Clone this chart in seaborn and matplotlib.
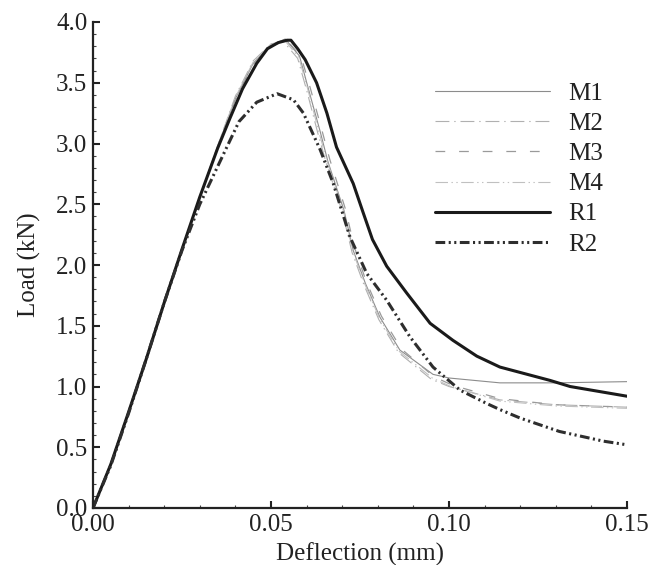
import numpy as np
import pandas as pd
import matplotlib
matplotlib.use("Agg")
import matplotlib.pyplot as plt
import seaborn as sns

# ---------------- data ----------------
r1_x = [0, 0.005, 0.010, 0.015, 0.020, 0.025, 0.030, 0.035, 0.0385, 0.042, 0.046, 0.049,
        0.052, 0.0545, 0.0556, 0.0575, 0.0596, 0.0628, 0.0657, 0.0684, 0.0731, 0.0759,
        0.0785, 0.0825, 0.0881, 0.0947, 0.1011, 0.1078, 0.1143, 0.1284, 0.134, 0.15]
r1_y = [0, 0.36, 0.79, 1.23, 1.69, 2.13, 2.56, 2.96, 3.21, 3.45, 3.66, 3.78,
        3.83, 3.85, 3.85, 3.78, 3.69, 3.50, 3.25, 2.97, 2.67, 2.43,
        2.21, 1.99, 1.77, 1.52, 1.38, 1.25, 1.16, 1.05, 1.00, 0.92]

r2_x = [0, 0.005, 0.010, 0.015, 0.020, 0.025, 0.030, 0.0371, 0.041, 0.046, 0.0517, 0.0563,
        0.0591, 0.0638, 0.0675, 0.0722, 0.0769, 0.0825, 0.089, 0.0955, 0.1031, 0.1106,
        0.1143, 0.12, 0.131, 0.1434, 0.15]
r2_y = [0, 0.35, 0.78, 1.23, 1.69, 2.12, 2.50, 2.94, 3.18, 3.34, 3.41, 3.36,
        3.25, 2.95, 2.67, 2.23, 1.93, 1.71, 1.41, 1.16, 0.97, 0.86,
        0.81, 0.74, 0.63, 0.55, 0.52]

m1_x = [0, 0.005, 0.010, 0.015, 0.020, 0.025, 0.030, 0.035, 0.040, 0.045, 0.050, 0.054,
        0.058, 0.0605, 0.0638, 0.066, 0.0705, 0.0731, 0.0765, 0.0806, 0.0862, 0.0955,
        0.100, 0.1143, 0.13, 0.15]
m1_y = [0, 0.36, 0.79, 1.23, 1.69, 2.13, 2.56, 2.97, 3.37, 3.66, 3.81, 3.86,
        3.72, 3.45, 3.10, 2.85, 2.45, 2.12, 1.85, 1.57, 1.30, 1.10,
        1.07, 1.03, 1.03, 1.04]

m2_x = [0, 0.005, 0.010, 0.015, 0.020, 0.025, 0.030, 0.035, 0.040, 0.045, 0.050, 0.0535,
        0.0575, 0.060, 0.0632, 0.0655, 0.070, 0.0728, 0.0762, 0.0803, 0.0858, 0.0950,
        0.100, 0.1143, 0.13, 0.15]
m2_y = [0, 0.36, 0.79, 1.23, 1.69, 2.13, 2.56, 2.98, 3.39, 3.68, 3.82, 3.84,
        3.70, 3.44, 3.08, 2.84, 2.44, 2.10, 1.83, 1.55, 1.28, 1.06,
        1.00, 0.89, 0.85, 0.83]

m3_x = [0, 0.005, 0.010, 0.015, 0.020, 0.025, 0.030, 0.035, 0.040, 0.045, 0.050, 0.0545,
        0.0585, 0.061, 0.0642, 0.0665, 0.0708, 0.0735, 0.0768, 0.0810, 0.0866, 0.0958,
        0.101, 0.1143, 0.13, 0.15]
m3_y = [0, 0.36, 0.79, 1.23, 1.69, 2.13, 2.56, 2.97, 3.36, 3.65, 3.80, 3.85,
        3.71, 3.46, 3.12, 2.87, 2.47, 2.14, 1.86, 1.58, 1.31, 1.08,
        1.01, 0.90, 0.85, 0.83]

m4_x = [0, 0.005, 0.010, 0.015, 0.020, 0.025, 0.030, 0.035, 0.040, 0.045, 0.050, 0.0538,
        0.0578, 0.0603, 0.0635, 0.0658, 0.0703, 0.0730, 0.0764, 0.0805, 0.0860, 0.0953,
        0.1005, 0.1143, 0.13, 0.15]
m4_y = [0, 0.36, 0.79, 1.23, 1.69, 2.13, 2.56, 2.98, 3.38, 3.67, 3.82, 3.85,
        3.71, 3.45, 3.09, 2.85, 2.45, 2.11, 1.84, 1.56, 1.29, 1.07,
        1.00, 0.88, 0.84, 0.82]

series_names = ["M1", "M2", "M3", "M4", "R1", "R2"]
x_ticks = [0.00, 0.05, 0.10, 0.15]
x_tick_labels = ["0.00", "0.05", "0.10", "0.15"]
y_ticks = [0.0, 0.5, 1.0, 1.5, 2.0, 2.5, 3.0, 3.5, 4.0]
y_tick_labels = ["0.0", "0.5", "1.0", "1.5", "2.0", "2.5", "3.0", "3.5", "4.0"]
x_label = "Deflection (mm)"
y_label = "Load (kN)"

# ---------------- styling ----------------
sns.set_style("ticks")
plt.rcParams["font.family"] = ["Liberation Serif", "DejaVu Serif"]
plt.rcParams["lines.scale_dashes"] = False

FS = 18

data = {
    "M1": (m1_x, m1_y),
    "M2": (m2_x, m2_y),
    "M3": (m3_x, m3_y),
    "M4": (m4_x, m4_y),
    "R1": (r1_x, r1_y),
    "R2": (r2_x, r2_y),
}
styles = {
    "M1": dict(color="#8c8c8c", linewidth=0.8, dashes=()),
    "M2": dict(color="#b0b0b0", linewidth=0.8, dashes=(10, 3.5, 1, 3.5)),
    "M3": dict(color="#9a9a9a", linewidth=0.9, dashes=(7, 10)),
    "M4": dict(color="#c0c0c0", linewidth=0.8, dashes=(9, 2.5, 1, 2.5, 1, 2.5)),
    "R1": dict(color="#1a1a1a", linewidth=2.2, dashes=()),
    "R2": dict(color="#2e2e2e", linewidth=2.2, dashes=(7, 2.5, 1.5, 2.5, 1.5, 2.5)),
}

fig = plt.figure(figsize=(6.51, 5.65), dpi=100)
ax = fig.add_axes([93 / 651, (565 - 508) / 565, 534 / 651, 486 / 565])

for name in series_names:
    xs, ys = data[name]
    df = pd.DataFrame({"x": xs, "y": ys})
    st = styles[name]
    sns.lineplot(data=df, x="x", y="y", ax=ax, sort=False, label=name,
                 estimator=None, color=st["color"], linewidth=st["linewidth"])
    ln = ax.get_lines()[-1]
    if st["dashes"]:
        ln.set_dashes(st["dashes"])
    else:
        ln.set_linestyle("-")

ax.set_xlim(0, 0.15)
ax.set_ylim(0, 4.0)
ax.set_xticks(x_ticks)
ax.set_xticklabels(x_tick_labels)
ax.set_yticks(y_ticks)
ax.set_yticklabels(y_tick_labels)
ax.xaxis.set_minor_locator(matplotlib.ticker.MultipleLocator(0.01))
ax.yaxis.set_minor_locator(matplotlib.ticker.MultipleLocator(0.1))
ax.tick_params(which="major", direction="in", length=5, width=1.5,
               labelsize=FS, colors="#222222", pad=4)
ax.tick_params(which="minor", direction="in", length=2.5, width=0.8, colors="#444444")
for s in ["top", "right"]:
    ax.spines[s].set_visible(False)
for s in ["left", "bottom"]:
    ax.spines[s].set_linewidth(1.6)
    ax.spines[s].set_color("#222222")
ax.set_xlabel(x_label, fontsize=FS, color="#222222", labelpad=5)
ax.set_ylabel(y_label, fontsize=FS, color="#222222", labelpad=11)

handles, labels = ax.get_legend_handles_labels()
leg = ax.legend(handles, labels, loc="upper left",
                bbox_to_anchor=((435 - 93) / 534, (508 - 82) / 486),
                frameon=False, fontsize=FS, handlelength=4.6, handletextpad=0.72,
                labelspacing=0.31, borderpad=0, borderaxespad=0)
for h, name in zip(leg.get_lines(), labels):
    st = styles[name]
    if st["dashes"]:
        h.set_dashes(st["dashes"])
    else:
        h.set_linestyle("-")
    h.set_linewidth(st["linewidth"])
for t in leg.get_texts():
    t.set_color("#222222")

fig.savefig("out.png", dpi=100)
